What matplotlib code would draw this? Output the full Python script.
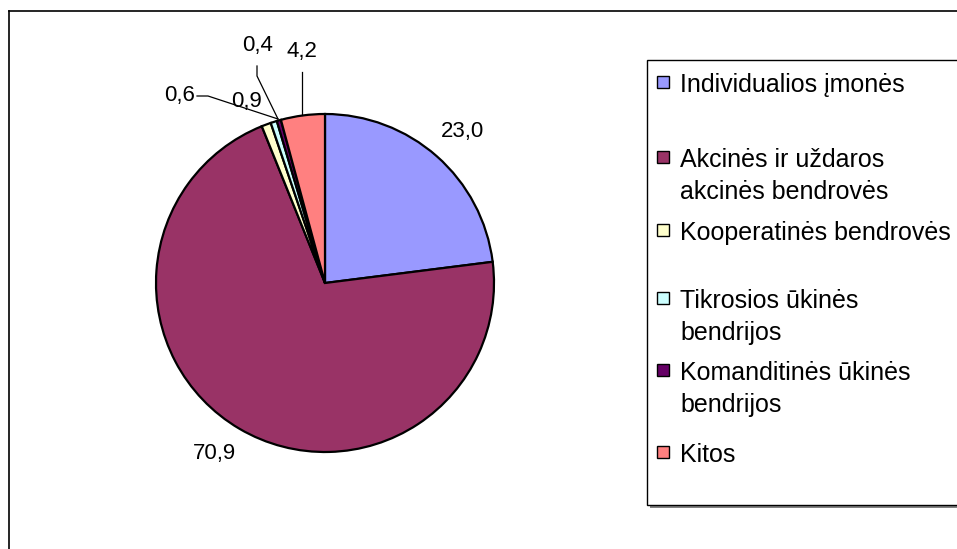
import matplotlib.pyplot as plt
from matplotlib.patches import Rectangle
from matplotlib.lines import Line2D

plt.rcParams['font.family'] = ['Liberation Sans', 'DejaVu Sans']

# duomenys
kategorijos = ['Individualios įmonės', 'Akcinės ir uždaros\nakcinės bendrovės',
               'Kooperatinės bendrovės', 'Tikrosios ūkinės\nbendrijos',
               'Komanditinės ūkinės\nbendrijos', 'Kitos']
reiksmes = [23.0, 70.9, 0.9, 0.6, 0.4, 4.2]
spalvos = ['#9999FF', '#993366', '#FFFFCC', '#CCFFFF', '#660066', '#FF8080']

W, H = 957, 549
fig = plt.figure(figsize=(W / 100, H / 100), dpi=100)

def fx(px):
    return px / W

def fy(py):
    return 1 - py / H

# rėmelis aplink diagramą
fig.add_artist(Line2D([fx(9), fx(9)], [fy(11), 0], color='black', lw=1.2))
fig.add_artist(Line2D([fx(9), 1], [fy(11), fy(11)], color='black', lw=1.2))

# skritulinė diagrama
cx, cy, r = 325, 283, 169
ax = fig.add_axes([fx(cx - r), fy(cy + r), 2 * r / W, 2 * r / H])
wedges, _ = ax.pie(reiksmes, colors=spalvos, startangle=90, counterclock=False,
                   radius=1, wedgeprops=dict(edgecolor='black', linewidth=1.6))
ax.set_xlim(-1, 1)
ax.set_ylim(-1, 1)
ax.set_aspect('auto')
ax.axis('off')

def fmt(v):
    return f'{v:.1f}'.replace('.', ',')

# reikšmių žymės (pikseliais)
zymes = [(462, 131), (214, 453), (246, 101), (180, 95), (258, 45), (302, 52)]
for v, (px, py) in zip(reiksmes, zymes):
    fig.text(fx(px), fy(py), fmt(v), ha='center', va='center', fontsize=16)

# nuorodų linijos
fig.add_artist(Line2D([fx(197), fx(208), fx(278)], [fy(96), fy(96), fy(119)],
                      color='black', lw=0.9))
fig.add_artist(Line2D([fx(257), fx(257), fx(278)], [fy(66), fy(76), fy(119)],
                      color='black', lw=0.9))
fig.add_artist(Line2D([fx(302), fx(302)], [fy(72), fy(115)],
                      color='black', lw=0.9))

# legenda
lx, ly_top, ly_bot = 647, 60, 505
fig.add_artist(Rectangle((fx(lx + 3), fy(ly_bot + 3)), 1, fy(ly_top + 3) - fy(ly_bot + 3),
                         facecolor='#808080', edgecolor='none'))
fig.add_artist(Rectangle((fx(lx), fy(ly_bot)), 1, fy(ly_top) - fy(ly_bot),
                         facecolor='white', edgecolor='black', lw=1.0))

eiles_y = [82, 157, 230, 298, 370, 452]
for tekstas, sp, py in zip(kategorijos, spalvos, eiles_y):
    fig.add_artist(Rectangle((fx(657), fy(py + 6)), fx(12), fy(py - 6) - fy(py + 6),
                             facecolor=sp, edgecolor='black', lw=1.0))
    fig.text(fx(680), fy(py - 9), tekstas, ha='left', va='top', fontsize=18,
             linespacing=1.42)

fig.savefig('out.png', dpi=100, facecolor='white')
